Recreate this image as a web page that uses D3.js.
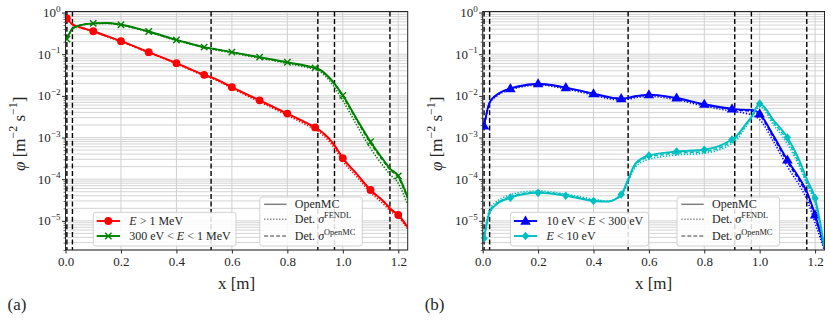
<!DOCTYPE html>
<html><head><meta charset="utf-8">
<script src="https://cdn.jsdelivr.net/npm/d3@7"></script>
<style>body{margin:0;background:#fff} svg{display:block} svg text{font-family:'Liberation Serif','DejaVu Serif',serif !important;}</style>
</head><body><svg id="c" width="831" height="322"></svg>
<script>
// ---------------- data ----------------
const xGrid = [0.005, 0.025, 0.05, 0.1, 0.15, 0.2, 0.3, 0.4, 0.45, 0.5, 0.525, 0.55, 0.6, 0.7, 0.8, 0.9, 0.91, 0.95, 0.97, 1.0, 1.05, 1.1, 1.15, 1.17, 1.2, 1.233];
const markerX = [0.005, 0.1, 0.2, 0.3, 0.4, 0.5, 0.6, 0.7, 0.8, 0.9, 1.0, 1.1, 1.2];
const xTicks = [0, 0.2, 0.4, 0.6, 0.8, 1.0, 1.2];
const yTicks = [1e-5, 1e-4, 1e-3, 1e-2, 1e-1, 1e0];
const yTickExp = ["\u22125", "\u22124", "\u22123", "\u22122", "\u22121", "0"];
const boundaries = [0.005, 0.025, 0.525, 0.91, 0.97, 1.17];
const panelLabels = ["(a)", "(b)"];

// (a) E > 1 MeV
const fastOpenMC = [0.72, 0.52, 0.45, 0.356, 0.27, 0.205, 0.112, 0.061, 0.044, 0.032, 0.028, 0.024, 0.0162, 0.0078, 0.00375, 0.00175, 0.0016, 0.00095, 0.00065, 0.00032, 0.000135, 5.5e-5, 2.8e-5, 2.0e-5, 1.38e-5, 7.2e-6];
const fastFendl  = [0.72, 0.51, 0.44, 0.35, 0.265, 0.2, 0.109, 0.059, 0.042, 0.0305, 0.0266, 0.0228, 0.0152, 0.0072, 0.0034, 0.00155, 0.00142, 0.00082, 0.00055, 0.00027, 0.000115, 4.8e-5, 2.4e-5, 1.75e-5, 1.25e-5, 6.5e-6];
const fastDet    = [0.72, 0.52, 0.45, 0.354, 0.268, 0.204, 0.111, 0.0605, 0.0437, 0.0318, 0.0278, 0.0238, 0.016, 0.0077, 0.0037, 0.00172, 0.00157, 0.00093, 0.00064, 0.000315, 0.000133, 5.4e-5, 2.75e-5, 1.95e-5, 1.36e-5, 7.1e-6];
// (a) 300 eV < E < 1 MeV
const epiOpenMC  = [0.23, 0.41, 0.49, 0.55, 0.56, 0.51, 0.35, 0.22, 0.18, 0.148, 0.138, 0.129, 0.112, 0.085, 0.064, 0.047, 0.045, 0.028, 0.0196, 0.0103, 0.0028, 7.9e-4, 2.7e-4, 1.8e-4, 1.2e-4, 3.8e-5];
const epiFendl   = [0.23, 0.40, 0.48, 0.54, 0.55, 0.50, 0.34, 0.213, 0.174, 0.143, 0.133, 0.124, 0.107, 0.081, 0.06, 0.043, 0.041, 0.024, 0.016, 0.0078, 0.002, 5.5e-4, 1.9e-4, 1.3e-4, 8e-5, 2.5e-5];
const epiDet     = [0.23, 0.41, 0.49, 0.548, 0.555, 0.508, 0.348, 0.219, 0.179, 0.147, 0.137, 0.128, 0.111, 0.084, 0.063, 0.046, 0.044, 0.027, 0.019, 0.0098, 0.0026, 7.3e-4, 2.5e-4, 1.7e-4, 1.1e-4, 3.5e-5];
// (b) 10 eV < E < 300 eV
const intOpenMC  = [1.9e-3, 7.0e-3, 0.0105, 0.0150, 0.0180, 0.0196, 0.0158, 0.0113, 0.0095, 0.0086, 0.0090, 0.0098, 0.0107, 0.0089, 0.0063, 0.0049, 0.0048, 0.0046, 0.0046, 0.0037, 0.0011, 2.9e-4, 8.9e-5, 5e-5, 1.4e-5, 2.5e-6];
const intFendl   = [1.9e-3, 6.5e-3, 0.0098, 0.0140, 0.0168, 0.0183, 0.0147, 0.0104, 0.0087, 0.0080, 0.0083, 0.0090, 0.0098, 0.0081, 0.0057, 0.0043, 0.0042, 0.0038, 0.0035, 0.0027, 8e-4, 2e-4, 6e-5, 3.3e-5, 9e-6, 2e-6];
const intDet     = [1.9e-3, 6.9e-3, 0.0104, 0.0148, 0.0178, 0.0193, 0.0156, 0.0111, 0.0093, 0.0085, 0.0088, 0.0096, 0.0105, 0.0087, 0.0061, 0.0047, 0.0046, 0.0044, 0.0043, 0.0034, 1.0e-3, 2.6e-4, 7.8e-5, 4.4e-5, 1.2e-5, 2.3e-6];
// (b) E < 10 eV
const thOpenMC   = [3.8e-6, 1.6e-5, 2.5e-5, 3.6e-5, 4.4e-5, 4.7e-5, 4.0e-5, 3.0e-5, 2.9e-5, 4.3e-5, 1.0e-4, 2.3e-4, 3.7e-4, 4.6e-4, 5.1e-4, 9.0e-4, 1.0e-3, 2.1e-3, 3.1e-3, 6.5e-3, 2.6e-3, 1.0e-3, 2.2e-4, 1.0e-4, 3.5e-5, 2.5e-6];
const thFendl    = [3.8e-6, 1.9e-5, 2.9e-5, 4.2e-5, 5.0e-5, 5.2e-5, 4.4e-5, 3.3e-5, 3.0e-5, 4.0e-5, 8.5e-5, 1.9e-4, 3.0e-4, 3.8e-4, 4.2e-4, 7.2e-4, 8.0e-4, 1.8e-3, 2.9e-3, 5.5e-3, 2.0e-3, 7.0e-4, 1.6e-4, 7.5e-5, 2.6e-5, 2.2e-6];
const thDet      = [3.8e-6, 1.7e-5, 2.6e-5, 3.8e-5, 4.6e-5, 4.9e-5, 4.2e-5, 3.1e-5, 2.9e-5, 4.1e-5, 9.3e-5, 2.1e-4, 3.4e-4, 4.2e-4, 4.6e-4, 8.2e-4, 9.2e-4, 2.0e-3, 3.1e-3, 6.2e-3, 2.3e-3, 8.5e-4, 1.8e-4, 8.5e-5, 3.0e-5, 2.3e-6];

const legendA = [[["E", "i"], [" > 1 MeV", ""]], [["300 eV < ", ""], ["E", "i"], [" < 1 MeV", ""]]];
const legendB = [[["10 eV < ", ""], ["E", "i"], [" < 300 eV", ""]], [["E", "i"], [" < 10 eV", ""]]];
const styleLegend = [[["OpenMC", ""]], [["Det. ", ""], ["\u03c3", "i"], ["FENDL", "s"]], [["Det. ", ""], ["\u03c3", "i"], ["OpenMC", "s"]]];

// ---------------- layout ----------------
const FONT = "'Liberation Serif', 'DejaVu Serif', serif";
const TOP = 11.5, BOT = 250, X_MAX = 1.234;
const Y_MIN = Math.pow(10, -5.7), Y_MAX = Math.pow(10, 0.025);
const panels = [
  {x0: 65.5, x1: 407.7, series: [
    {color: "#ff0000", marker: "circle", openmc: fastOpenMC, fendl: fastFendl, det: fastDet},
    {color: "#008000", marker: "x", openmc: epiOpenMC, fendl: epiFendl, det: epiDet}], legend: legendA},
  {x0: 482.7, x1: 824.5, series: [
    {color: "#0000ff", marker: "triangle", openmc: intOpenMC, fendl: intFendl, det: intDet},
    {color: "#00bfbf", marker: "diamond", openmc: thOpenMC, fendl: thFendl, det: thDet}], legend: legendB}
];

const svg = d3.select("#c").style("font-family", FONT);

function rich(sel, segs, size) {
  let shift = 0;
  segs.forEach(([t, st]) => {
    const target = st === "s" ? -size * 0.42 : 0;
    const ts = sel.append("tspan").text(t).attr("dy", target - shift);
    shift = target;
    if (st === "i") ts.attr("font-style", "italic");
    if (st === "s") ts.attr("font-size", size * 0.7);
  });
}

function drawMarker(g, type, cx, cy, color) {
  if (type === "circle") {
    g.append("circle").attr("cx", cx).attr("cy", cy).attr("r", 3.9).attr("fill", color);
  } else if (type === "x") {
    const s = 3.2;
    g.append("path").attr("d", `M${cx - s},${cy - s}L${cx + s},${cy + s}M${cx - s},${cy + s}L${cx + s},${cy - s}`)
      .attr("stroke", color).attr("stroke-width", 1.4).attr("fill", "none");
  } else if (type === "triangle") {
    g.append("path").attr("d", d3.symbol(d3.symbolTriangle, 48)()).attr("transform", `translate(${cx},${cy + 0.6})`).attr("fill", color);
  } else if (type === "diamond") {
    const s = 4.3;
    g.append("path").attr("d", `M${cx},${cy - s}L${cx + s * 0.85},${cy}L${cx},${cy + s}L${cx - s * 0.85},${cy}Z`).attr("fill", color);
  }
}

panels.forEach((p, pi) => {
  const x = d3.scaleLinear().domain([0, X_MAX]).range([p.x0, p.x1]);
  const y = d3.scaleLog().domain([Y_MIN, Y_MAX]).range([BOT, TOP]);
  const g = svg.append("g");

  const clipId = "clip" + pi;
  g.append("clipPath").attr("id", clipId).append("rect")
    .attr("x", p.x0).attr("y", TOP).attr("width", p.x1 - p.x0).attr("height", BOT - TOP);

  // grid
  const minorVals = [];
  for (let k = -6; k <= 0; k++) for (let m = 1; m <= 9; m++) {
    const v = m * Math.pow(10, k);
    if (v >= Y_MIN && v <= Y_MAX) minorVals.push(v);
  }
  g.append("g").selectAll("line").data(minorVals).join("line")
    .attr("x1", p.x0).attr("x2", p.x1).attr("y1", d => y(d)).attr("y2", d => y(d))
    .attr("stroke", "#cfcfcf").attr("stroke-width", 0.9);
  g.append("g").selectAll("line").data(xTicks).join("line")
    .attr("x1", d => x(d)).attr("x2", d => x(d)).attr("y1", TOP).attr("y2", BOT)
    .attr("stroke", "#d0d0d0").attr("stroke-width", 1);

  // boundaries
  g.append("g").selectAll("line").data(boundaries).join("line")
    .attr("x1", d => x(d)).attr("x2", d => x(d)).attr("y1", TOP).attr("y2", BOT)
    .attr("stroke", "#000").attr("stroke-width", 1.4).attr("stroke-dasharray", "5,2.6");

  // curves
  const cg = g.append("g").attr("clip-path", `url(#${clipId})`);
  const line = d3.line().x((d, i) => x(xGrid[i])).y(d => y(d)).curve(d3.curveMonotoneX);
  p.series.forEach(s => {
    cg.append("path").attr("d", line(s.det)).attr("fill", "none").attr("stroke", s.color)
      .attr("stroke-width", 1.5).attr("stroke-dasharray", "4,2");
    cg.append("path").attr("d", line(s.fendl)).attr("fill", "none").attr("stroke", s.color)
      .attr("stroke-width", 1.6).attr("stroke-dasharray", "1.3,1.7");
    cg.append("path").attr("d", line(s.openmc)).attr("fill", "none").attr("stroke", s.color)
      .attr("stroke-width", 1.9);
    xGrid.forEach((xv, i) => {
      if (markerX.includes(xv)) drawMarker(cg, s.marker, x(xv), y(s.openmc[i]), s.color);
    });
  });

  // frame
  g.append("rect").attr("x", p.x0).attr("y", TOP).attr("width", p.x1 - p.x0).attr("height", BOT - TOP)
    .attr("fill", "none").attr("stroke", "#262626").attr("stroke-width", 1);

  // axes
  const ax = g.append("g").attr("transform", `translate(0,${BOT})`)
    .call(d3.axisBottom(x).tickValues(xTicks).tickFormat(d3.format(".1f")).tickSize(3.5).tickPadding(3).tickSizeOuter(0))
    .attr("font-family", null).attr("font-size", 13);
  ax.select(".domain").remove();
  ax.selectAll("line").attr("stroke", "#262626");
  ax.selectAll("text").attr("fill", "#262626");

  const ay = g.append("g").attr("transform", `translate(${p.x0},0)`)
    .call(d3.axisLeft(y).tickValues(yTicks).tickFormat("").tickSize(3.5).tickSizeOuter(0));
  ay.select(".domain").remove();
  ay.selectAll("line").attr("stroke", "#262626");
  const aym = g.append("g").attr("transform", `translate(${p.x0},0)`)
    .call(d3.axisLeft(y).tickValues(minorVals.filter(v => !yTicks.includes(v))).tickFormat("").tickSize(2).tickSizeOuter(0));
  aym.select(".domain").remove();
  aym.selectAll("line").attr("stroke", "#262626").attr("stroke-width", 0.7);

  yTicks.forEach((v, i) => {
    const t = g.append("text").attr("x", p.x0 - 5).attr("y", y(v) + 4.6)
      .attr("text-anchor", "end").attr("font-size", 13).attr("fill", "#262626");
    rich(t, [["10", ""], [yTickExp[i], "s"]], 13);
  });

  // axis labels
  g.append("text").attr("x", (p.x0 + p.x1) / 2).attr("y", 289).attr("text-anchor", "middle")
    .attr("font-size", 17).attr("fill", "#262626").text("x [m]");
  const yl = g.append("text").attr("transform", `translate(${p.x0 - 41},${(TOP + BOT) / 2 + 3}) rotate(-90)`)
    .attr("text-anchor", "middle").attr("font-size", 17).attr("fill", "#262626");
  rich(yl, [["\u03c6", "i"], [" [m", ""], ["\u22122", "s"], [" s", ""], ["\u22121", "s"], ["]", ""]], 17);

  g.append("text").attr("x", p.x0 - 58).attr("y", 310).attr("font-size", 17).attr("fill", "#262626").text(panelLabels[pi]);

  // series legend
  const lg = g.append("g");
  const lbx = p.x0 + 27.8, lby = 212.3;
  const box = lg.append("rect").attr("x", lbx).attr("y", lby).attr("height", 33.7).attr("rx", 2.5)
    .attr("fill", "#fff").attr("fill-opacity", 0.85).attr("stroke", "#cccccc").attr("stroke-width", 0.9);
  let maxR = 0;
  p.series.forEach((s, i) => {
    const ry = lby + 8.7 + i * 15;
    lg.append("line").attr("x1", lbx + 3.4).attr("x2", lbx + 26.7).attr("y1", ry).attr("y2", ry)
      .attr("stroke", s.color).attr("stroke-width", 1.9);
    drawMarker(lg, s.marker, lbx + 15, ry, s.color);
    const t = lg.append("text").attr("x", lbx + 36).attr("y", ry + 4).attr("font-size", 12).attr("fill", "#262626");
    rich(t, p.legend[i], 12);
    const bb = t.node().getBBox();
    maxR = Math.max(maxR, bb.x + bb.width);
  });
  box.attr("width", maxR + 5 - lbx);

  // style legend
  const sg = g.append("g");
  const sbx = p.x0 + 194.3, sby = 197;
  sg.append("rect").attr("x", sbx).attr("y", sby).attr("width", 102.5).attr("height", 49).attr("rx", 2.5)
    .attr("fill", "#fff").attr("fill-opacity", 0.85).attr("stroke", "#cccccc").attr("stroke-width", 0.9);
  const rowsY = [204.3, 219.3, 236];
  const dashes = [null, "1.3,1.7", "4,2"];
  styleLegend.forEach((segs, i) => {
    const l = sg.append("line").attr("x1", sbx + 4.3).attr("x2", sbx + 26.7).attr("y1", rowsY[i]).attr("y2", rowsY[i])
      .attr("stroke", "#7f7f7f").attr("stroke-width", 1.5);
    if (dashes[i]) l.attr("stroke-dasharray", dashes[i]);
    const t = sg.append("text").attr("x", sbx + 35).attr("y", rowsY[i] + 4).attr("font-size", 12).attr("fill", "#262626");
    rich(t, segs, 12);
  });
});
</script>
</body></html>
